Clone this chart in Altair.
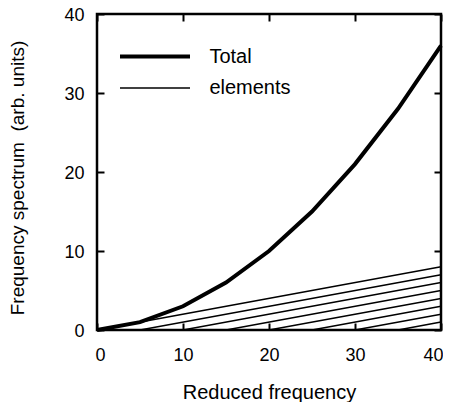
import altair as alt
import pandas as pd

# Data
freq = [0, 5, 10, 15, 20, 25, 30, 35, 40]
total = [0, 1, 3, 6, 10, 15, 21, 28, 36]
elem_start = [0, 5, 10, 15, 20, 25, 30, 35]
elem_end_value = [8, 7, 6, 5, 4, 3, 2, 1]
x_ticks = [0, 10, 20, 30, 40]
y_ticks = [0, 10, 20, 30, 40]
series_names = ["Total", "elements"]

rows = []
for f, t in zip(freq, total):
    rows.append(dict(x=f, y=t, series="Total", line="total"))
for i, (s, e) in enumerate(zip(elem_start, elem_end_value)):
    rows.append(dict(x=s, y=0, series="elements", line=f"e{i}"))
    rows.append(dict(x=freq[-1], y=e, series="elements", line=f"e{i}"))
df = pd.DataFrame(rows)

FONT = "Liberation Sans"
TS = 7

xscale = alt.Scale(domain=[0, 40], nice=False, zero=False)
yscale = alt.Scale(domain=[0, 40], nice=False, zero=False)

common_axis = dict(offset=-TS, tickSize=TS, tickWidth=2, tickColor="black",
                   domain=False, grid=False)

lines = alt.Chart(df).mark_line(color="black", strokeCap="butt").encode(
    x=alt.X("x:Q", scale=xscale,
            axis=alt.Axis(orient="bottom", values=x_ticks, labelFontSize=18, labelFont=FONT,
                          labelColor="black", labelPadding=16, labelFlush=True, labelFlushOffset=2,
                          title="Reduced frequency", titleFont=FONT,
                          titleFontSize=20, titleFontWeight="normal", titleColor="black",
                          titlePadding=18, **common_axis)),
    y=alt.Y("y:Q", scale=yscale,
            axis=alt.Axis(orient="left", values=y_ticks, labelFontSize=18, labelFont=FONT,
                          labelColor="black", labelPadding=13, labelOffset=1,
                          title="Frequency spectrum\u00a0 (arb. units)", titleFont=FONT,
                          titleFontSize=19, titleFontWeight="normal", titleColor="black",
                          titlePadding=36, titleY=163.5, **common_axis)),
    strokeWidth=alt.StrokeWidth("series:N", scale=alt.Scale(domain=series_names, range=[4, 1.5]),
                                legend=alt.Legend(title=None, orient="none", legendX=48, legendY=32.5,
                                                  symbolType="M-5,0H5", symbolSize=196,
                                                  symbolStrokeColor="black", labelFontSize=20,
                                                  labelFont=FONT, labelColor="black", labelOffset=44.4,
                                                  rowPadding=11.6, direction="vertical")),
    detail="line:N",
)

mirror = alt.Chart(df).mark_point(opacity=0).encode(
    x=alt.X("x:Q", scale=xscale,
            axis=alt.Axis(orient="top", values=x_ticks, labels=False, title=None, **common_axis)),
    y=alt.Y("y:Q", scale=yscale,
            axis=alt.Axis(orient="right", values=y_ticks, labels=False, title=None, **common_axis)),
)

chart = alt.layer(lines, mirror).resolve_axis(x="independent", y="independent").properties(
    width=344, height=316,
    autosize=alt.AutoSizeParams(type="none"),
    padding={"left": 89, "top": 6, "right": 2, "bottom": 72},
).configure_view(stroke="black", strokeWidth=2.5)

chart.save("out.html", embed_options={"renderer": "svg", "actions": False})
